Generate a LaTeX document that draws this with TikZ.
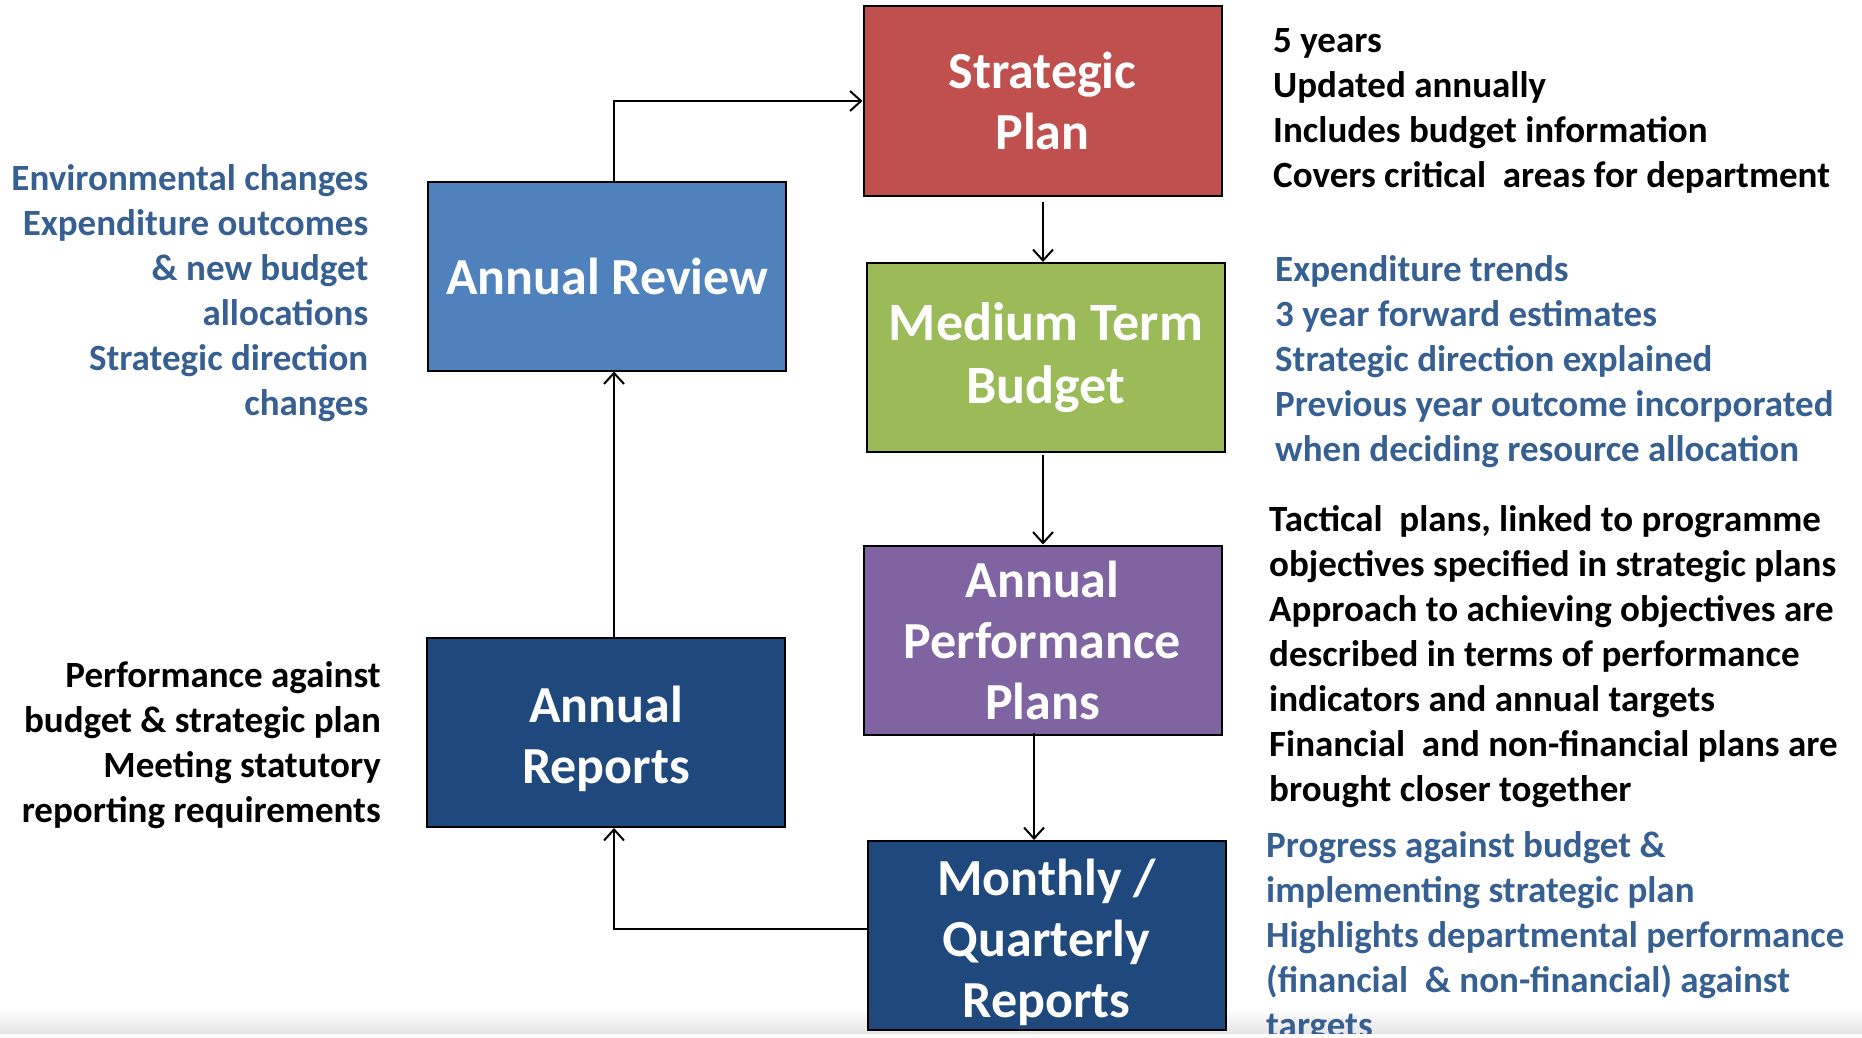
\documentclass[tikz,border=0pt]{standalone}
\usepackage{fontspec}
\setmainfont{Carlito}
\usetikzlibrary{arrows.meta}
\definecolor{planred}{HTML}{C0504D}
\definecolor{reviewblue}{HTML}{4F81BD}
\definecolor{budgetgreen}{HTML}{9BBB59}
\definecolor{perfpurple}{HTML}{8064A2}
\definecolor{reportnavy}{HTML}{1F497D}
\definecolor{notesblue}{HTML}{376092}
\begin{document}
\begin{tikzpicture}[x=1pt,y=-1pt,
  boxtext/.style={inner sep=0pt, text=white, align=center,
    font=\bfseries\fontsize{52}{61}\selectfont},
  box/.style={boxtext, draw=black, line width=2pt,
    minimum width=358pt, minimum height=189pt},
  note/.style={inner sep=0pt, font=\bfseries\fontsize{37}{45}\selectfont},
  flow/.style={line width=2pt, -{Straight Barb[length=11pt,width=20pt,line width=2pt]}}]
\useasboundingbox (0,0) rectangle (1862,1038);

% soft band along the lower edge
\shade[top color=white, bottom color=black!10] (0,1008) rectangle (1862,1033);

% process boxes
\node[box, fill=planred]     (sp)  at (1042.5,101)   {Strategic\\Plan};
\node[box, fill=reviewblue]  (rev) at (607,276)      {Annual Review};
\node[box, fill=budgetgreen, font=\bfseries\fontsize{54}{63}\selectfont]
                             (mtb) at (1046,357.5)   {Medium Term\\Budget};
\node[box, fill=perfpurple]  (app) at (1042.5,640)   {Annual\\Performance\\Plans};
\node[box, fill=reportnavy]  (mqr) at (1046.5,935.5) {};
\node[boxtext] (mqrtext) at ([yshift=-7pt]mqr.center) {Monthly /\\Quarterly\\Reports};
\node[box, fill=reportnavy]  (rep) at (606,732.5)    {};
\node[boxtext] (reptext) at ([yshift=-6pt]rep.center) {Annual\\Reports};

% connectors
\coordinate (revtop) at (614,182);
\coordinate (bend1) at (614,101);
\draw[flow] (revtop) -- (bend1) -- (sp.west);
\coordinate (spout) at (1043,202);
\draw[flow] (spout) -- (mtb.north -| spout);
\coordinate (mtbout) at (1043,455);
\draw[flow] (mtbout) -- (app.north -| mtbout);
\coordinate (appout) at (1034,733);
\draw[flow] (appout) -- (mqr.north -| appout);
\coordinate (bend2) at (614,929);
\draw[flow] (mqr.west |- bend2) -- (bend2) -- (rep.south -| bend2);
\coordinate (reptop) at (614,638);
\draw[flow] (reptop) -- (rev.south -| reptop);

% notes
\node[note, anchor=north west, align=left] (n1) at (1273,20.5)
  {\strut 5 years\\Updated annually\\Includes budget information\\Covers critical\ \ areas for department};
\node[note, anchor=north east, align=right, text=notesblue] (n2) at (368.5,158.5)
  {\strut Environmental changes\\Expenditure outcomes\\\& new budget\\allocations\\Strategic direction\\changes};
\node[note, anchor=north west, align=left, text=notesblue] (n3) at (1275,250)
  {\strut Expenditure trends\\3 year forward estimates\\Strategic direction explained\\Previous year outcome incorporated\\when deciding resource allocation};
\node[note, anchor=north west, align=left] (n4) at (1269,499.5)
  {\strut Tactical\ \ plans, linked to programme\\objectives specified in strategic plans\\Approach to achieving objectives are\\described in terms of performance\\indicators and annual targets\\Financial\ \ and non-financial plans are\\brought closer together};
\node[note, anchor=north east, align=right] (n5) at (381,655.5)
  {\strut Performance against\\budget \& strategic plan\\Meeting statutory\\reporting requirements};
\node[note, anchor=north west, align=left, text=notesblue] (n6) at (1266,826)
  {\strut Progress against budget \&\\implementing strategic plan\\Highlights departmental performance\\(financial\ \ \& non-financial) against\\targets};

% the lower edge cuts everything off
\fill[white] (0,1034) rectangle (1862,1038);
\end{tikzpicture}
\end{document}
